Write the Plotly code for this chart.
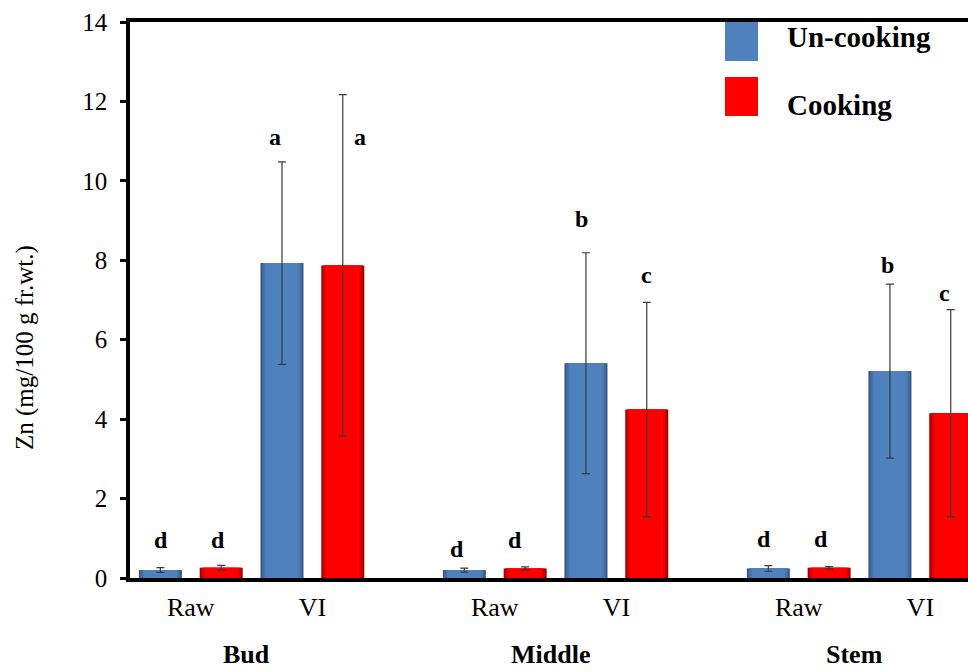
import plotly.graph_objects as go

# ---- data -------------------------------------------------------------
tissues = ["Bud", "Middle", "Stem"]
treatments = ["Raw", "VI"]

uncooking = [0.20, 7.93, 0.20, 5.41, 0.24, 5.21]
uncooking_err = [0.06, 2.55, 0.05, 2.78, 0.07, 2.19]
cooking = [0.26, 7.87, 0.24, 4.24, 0.26, 4.15]
cooking_err = [0.06, 4.30, 0.04, 2.70, 0.03, 2.61]

uncooking_letters = ["d", "a", "d", "b", "d", "b"]
cooking_letters = ["d", "a", "d", "c", "d", "c"]

y_ticks = [0, 2, 4, 6, 8, 10, 12, 14]

# ---- layout helpers ---------------------------------------------------
W, H = 968, 671
ML, MR, MT, MB = 130, 0, 22, 93
X_RANGE = [-0.5, 6.392]
Y_RANGE = [0, 14]
PX_PER_UNIT = (W - ML - MR) / (X_RANGE[1] - X_RANGE[0])

group_step = 2.5
bar_offset = 0.25

# category centres: Raw / VI inside each tissue group
centres = []
for g in range(len(tissues)):
    for t in range(len(treatments)):
        centres.append(g * group_step + t)
x_unc = [c - bar_offset for c in centres]
x_coo = [c + bar_offset for c in centres]

# letter placement (value units) and small horizontal nudges (px)
unc_letter_y = [0.96, 11.10, 0.73, 9.03, 0.98, 7.88]
coo_letter_y = [0.96, 11.10, 0.96, 7.63, 0.98, 7.17]
unc_letter_dx = [1, -7, -7, -4, -4, -2]
coo_letter_dx = [-3, 17, -10, 0, -8, -6]

FONT = "Liberation Serif"
BLUE = "#4F81BD"
RED = "#FF0000"
# shaded bar edges: (width in px, colour) from outer to inner layer
BLUE_SHADES = [(43, "#36577F"), (40, "#40699A"), (37, "#4876AE"), (33, BLUE)]
RED_SHADES = [(43, "#A30000"), (40, "#C80000"), (37, "#E80000"), (33, RED)]
ERR = "#3a3a3a"


def px_to_paper_x(px):
    return (px - ML) / (W - ML - MR)


def px_to_paper_y(py):
    return 1 - (py - MT) / (H - MT - MB)


fig = go.Figure()


def add_series(xs, ys, errs, shades, name):
    last = len(shades) - 1
    for i, (wpx, col) in enumerate(shades):
        fig.add_trace(go.Bar(
            x=xs, y=ys, width=wpx / PX_PER_UNIT, name=name,
            marker=dict(color=col, line=dict(width=0)),
            error_y=dict(type="data", array=errs, visible=(i == last),
                         color=ERR, thickness=1.2, width=4),
            showlegend=False, hoverinfo="skip" if i != last else None,
        ))


add_series(x_unc, uncooking, uncooking_err, BLUE_SHADES, "Un-cooking")
add_series(x_coo, cooking, cooking_err, RED_SHADES, "Cooking")

annotations = []
# significance letters
for xs, ys, letters, dxs in ((x_unc, unc_letter_y, uncooking_letters, unc_letter_dx),
                             (x_coo, coo_letter_y, cooking_letters, coo_letter_dx)):
    for x, y, s, dx in zip(xs, ys, letters, dxs):
        annotations.append(dict(
            x=x, y=y, text=f"<b>{s}</b>", showarrow=False, xshift=dx,
            xanchor="center", yanchor="middle",
            font=dict(family=FONT, size=24, color="black"),
        ))

# tissue group labels
for g, name in enumerate(tissues):
    annotations.append(dict(
        x=g * group_step + 0.5, y=px_to_paper_y(671), yref="paper",
        text=f"<b>{name}</b>", showarrow=False, xshift=-5,
        xanchor="center", yanchor="bottom",
        font=dict(family=FONT, size=26, color="black"),
    ))

# y-axis title
annotations.append(dict(
    xref="paper", yref="paper", x=px_to_paper_x(25), y=px_to_paper_y(348),
    text="Zn (mg/100 g fr.wt.)", textangle=-90, showarrow=False,
    xanchor="center", yanchor="middle",
    font=dict(family=FONT, size=25, color="black"),
))

# legend drawn by hand with large swatches
shapes = []
legend_items = [("Un-cooking", BLUE, 22, 61, 37), ("Cooking", RED, 77, 116, 105)]
for label, col, top, bot, ty in legend_items:
    shapes.append(dict(
        type="rect", xref="paper", yref="paper",
        x0=px_to_paper_x(725), x1=px_to_paper_x(758),
        y0=px_to_paper_y(bot), y1=px_to_paper_y(top),
        fillcolor=col, line=dict(width=0),
    ))
    annotations.append(dict(
        xref="paper", yref="paper", x=px_to_paper_x(785), y=px_to_paper_y(ty),
        text=f"<b>{label}</b>", showarrow=False,
        xanchor="left", yanchor="middle",
        font=dict(family=FONT, size=29, color="black"),
    ))

fig.update_layout(
    width=W, height=H,
    margin=dict(l=ML, r=MR, t=MT, b=MB, pad=0),
    paper_bgcolor="white", plot_bgcolor="white",
    barmode="overlay",
    font=dict(family=FONT, color="black"),
    annotations=annotations,
    shapes=shapes,
    xaxis=dict(
        range=X_RANGE, showgrid=False, zeroline=False,
        tickmode="array", tickvals=centres,
        ticktext=treatments * len(tissues),
        ticks="", tickfont=dict(family=FONT, size=26, color="black"),
        ticklabelstandoff=3,
        showline=True, linecolor="black", linewidth=3.5, mirror=True,
    ),
    yaxis=dict(
        range=Y_RANGE, tickvals=y_ticks, showgrid=False, zeroline=False,
        ticks="outside", ticklen=6, tickwidth=3, tickcolor="black",
        tickfont=dict(family=FONT, size=25, color="black"),
        ticklabelstandoff=8,
        showline=True, linecolor="black", linewidth=3.5,
    ),
)

fig.write_html("out.html")
